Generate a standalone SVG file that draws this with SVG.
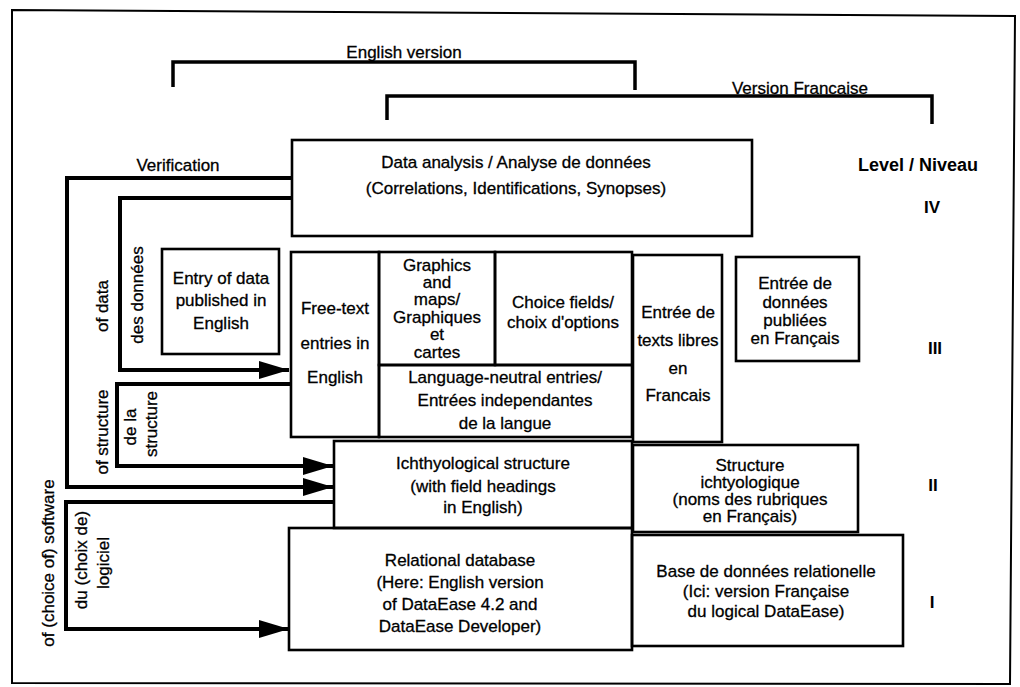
<svg xmlns="http://www.w3.org/2000/svg" width="1020" height="687" viewBox="0 0 1020 687">
<style>
.box{fill:none;stroke:#000;stroke-width:2.6}
.br{fill:none;stroke:#000;stroke-width:3.5}
.conn{fill:none;stroke:#000;stroke-width:4}
text{font-family:"Liberation Sans",Arial,Helvetica,sans-serif;font-size:17px;text-anchor:middle;dominant-baseline:central;fill:#000;stroke:#000;stroke-width:0.3}
.b{font-weight:bold;stroke-width:0}
.lv{font-size:18px}
</style>
<defs>
<marker id="ah" markerUnits="userSpaceOnUse" markerWidth="30" markerHeight="18" refX="30" refY="9" orient="auto">
<path d="M0,0 L30,9 L0,18 z" fill="#000"/>
</marker>
</defs>
<rect width="1020" height="687" fill="#fff"/>
<polygon points="12,10 1015,16 1010,684 12,683" fill="none" stroke="#000" stroke-width="2"/>

<g id="brackets">
<path class="br" d="M173,87 V62 H635 V90"/>
<text x="404" y="52">English version</text>
<path class="br" d="M387,120 V96 H932 V124"/>
<text x="800" y="88">Version Francaise</text>
</g>

<g id="levels">
<text class="b lv" x="918" y="165">Level / Niveau</text>
<text class="b" x="932" y="207">IV</text>
<text class="b" x="935" y="348">III</text>
<text class="b" x="933" y="485">II</text>
<text class="b" x="932" y="602">I</text>
</g>

<g id="connectors">
<path class="conn" d="M292,178 H67 V487 H333" marker-end="url(#ah)"/>
<path class="conn" d="M292,198 H120 V370 H289" marker-end="url(#ah)"/>
<path class="conn" d="M291,384 H117 V466 H333" marker-end="url(#ah)"/>
<path class="conn" d="M334,502 H66 V629 H289" marker-end="url(#ah)"/>
<text x="178" y="165">Verification</text>
<text transform="rotate(-90 102 306)" x="102" y="306">of data</text>
<text transform="rotate(-90 137 295)" x="137" y="295">des données</text>
<text transform="rotate(-90 102 432)" x="102" y="432">of structure</text>
<text transform="rotate(-90 130 427)" x="130" y="427">de la</text>
<text transform="rotate(-90 151 424)" x="151" y="424">structure</text>
<text transform="rotate(-90 48 563)" x="48" y="563">of (choice of) software</text>
<text transform="rotate(-90 81 560)" x="81" y="560">du (choix de)</text>
<text transform="rotate(-90 103 563)" x="103" y="563">logiciel</text>
</g>

<g id="data-analysis">
<rect class="box" x="292" y="140" width="460" height="96"/>
<text x="516" y="162">Data analysis / Analyse de données</text>
<text x="516" y="188">(Correlations, Identifications, Synopses)</text>
</g>

<g id="entry-english">
<rect class="box" x="162" y="249" width="117" height="105"/>
<text x="221" y="278">Entry of data</text>
<text x="221" y="300">published in</text>
<text x="221" y="323">English</text>
</g>

<g id="free-text">
<rect class="box" x="291" y="252" width="88" height="185"/>
<text x="335" y="308">Free-text</text>
<text x="335" y="343">entries in</text>
<text x="335" y="377">English</text>
</g>

<g id="graphics">
<rect class="box" x="379" y="252" width="116" height="113"/>
<text x="437" y="265">Graphics</text>
<text x="437" y="282">and</text>
<text x="437" y="299">maps/</text>
<text x="437" y="317">Graphiques</text>
<text x="437" y="334">et</text>
<text x="437" y="352">cartes</text>
</g>

<g id="choice">
<rect class="box" x="495" y="252" width="137" height="113"/>
<text x="563" y="302">Choice fields/</text>
<text x="563" y="322">choix d'options</text>
</g>

<g id="language-neutral">
<rect class="box" x="379" y="365" width="253" height="72"/>
<text x="505" y="377">Language-neutral entries/</text>
<text x="505" y="400">Entrées independantes</text>
<text x="505" y="423">de la langue</text>
</g>

<g id="texts-libres">
<rect class="box" x="633" y="255" width="89" height="187"/>
<text x="678" y="312">Entrée de</text>
<text x="678" y="340">texts libres</text>
<text x="678" y="368">en</text>
<text x="678" y="395">Francais</text>
</g>

<g id="entree-francais">
<rect class="box" x="736" y="257" width="123" height="104"/>
<text x="795" y="283">Entrée de</text>
<text x="795" y="302">données</text>
<text x="795" y="320">publiées</text>
<text x="795" y="338">en Français</text>
</g>

<g id="ichthyological">
<rect class="box" x="334" y="441" width="298" height="87"/>
<text x="483" y="463">Ichthyological structure</text>
<text x="483" y="486">(with field headings</text>
<text x="483" y="507">in English)</text>
</g>

<g id="structure-ichtyologique">
<rect class="box" x="633" y="445" width="225" height="87"/>
<text x="750" y="465">Structure</text>
<text x="750" y="482">ichtyologique</text>
<text x="750" y="499">(noms des rubriques</text>
<text x="750" y="516">en Français)</text>
</g>

<g id="relational">
<rect class="box" x="289" y="528" width="343" height="122"/>
<text x="460" y="560">Relational database</text>
<text x="460" y="582">(Here: English version</text>
<text x="460" y="604">of DataEase 4.2 and</text>
<text x="460" y="626">DataEase Developer)</text>
</g>

<g id="base-relationelle">
<rect class="box" x="632" y="535" width="271" height="111"/>
<text x="766" y="571">Base de données relationelle</text>
<text x="766" y="591">(Ici: version Française</text>
<text x="766" y="611">du logical DataEase)</text>
</g>
</svg>
